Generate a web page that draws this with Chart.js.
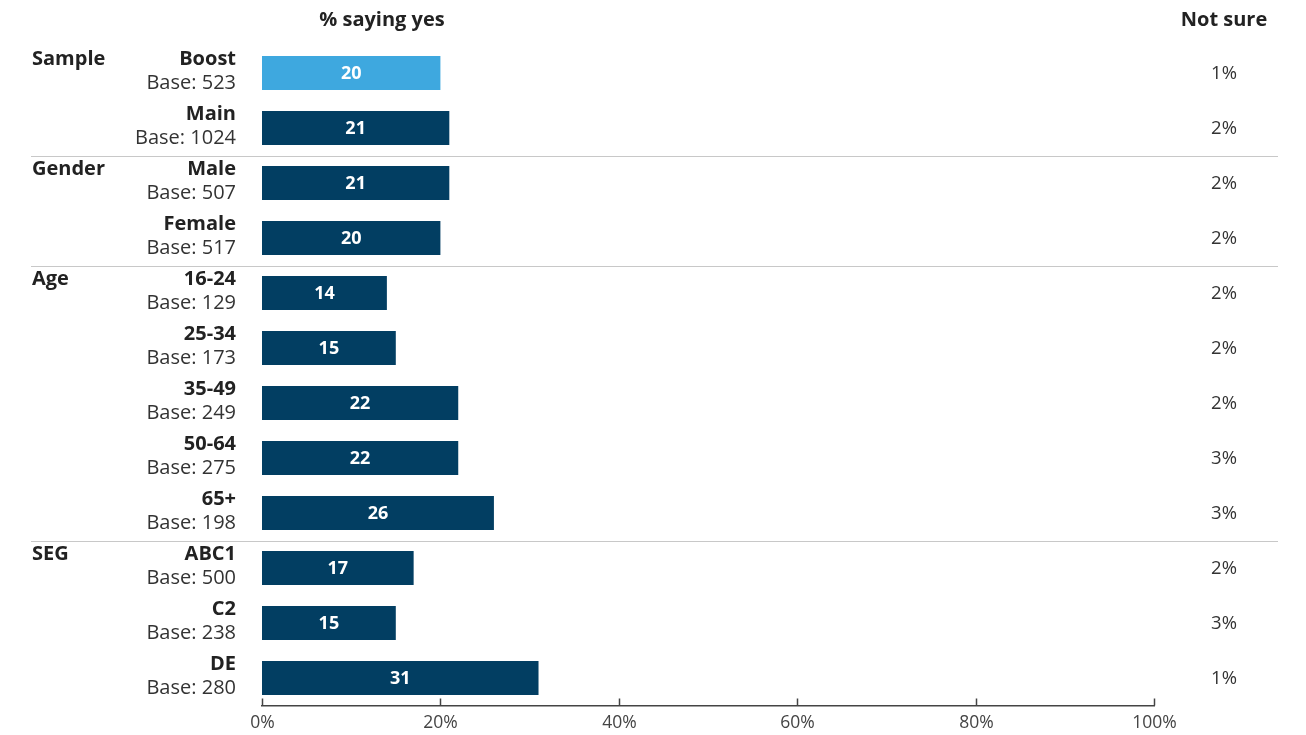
<!DOCTYPE html>
<html lang="en">
<head>
<meta charset="UTF-8">
<title>% saying yes</title>
<script src="https://cdn.jsdelivr.net/npm/chart.js"></script>
<style>
    body { margin: 0; background: #fff; }
    .wrap { position: relative; width: 1306px; height: 735px; }
</style>
</head>
<body>
<div class="wrap"><canvas id="chart"></canvas></div>
<script>
// Survey rows, top to bottom
const groups = ['Sample', '', 'Gender', '', 'Age', '', '', '', '', 'SEG', '', ''];
const categories = ['Boost', 'Main', 'Male', 'Female', '16-24', '25-34', '35-49', '50-64', '65+', 'ABC1', 'C2', 'DE'];
const bases = [523, 1024, 507, 517, 129, 173, 249, 275, 198, 500, 238, 280];
const yesValues = [20, 21, 21, 20, 14, 15, 22, 22, 26, 17, 15, 31];
const notSure = [1, 2, 2, 2, 2, 2, 2, 3, 3, 2, 3, 1];
const xTicks = [0, 20, 40, 60, 80, 100];
// rows after which a group divider is drawn
const dividersAfter = [1, 3, 8];

const NAVY = '#023e62';
const SKY = '#3ea8df';
const FONT = '"Open Sans", Lato, sans-serif';

const labelsPlugin = {
    id: 'rowLabels',
    afterDraw(chart) {
        const { ctx, chartArea, scales } = chart;
        const x = scales.x, y = scales.y;
        ctx.save();

        // upward tick marks on the axis line, labels below
        ctx.strokeStyle = '#444';
        ctx.lineWidth = 1.5;
        ctx.fillStyle = '#444';
        ctx.font = '17.5px ' + FONT;
        ctx.textAlign = 'center';
        ctx.textBaseline = 'middle';
        xTicks.forEach(t => {
            const px = Math.round(x.getPixelForValue(t)) + 0.5;
            ctx.beginPath();
            ctx.moveTo(px, chartArea.bottom);
            ctx.lineTo(px, chartArea.bottom - 7);
            ctx.stroke();
            ctx.fillText(t + '%', px, chartArea.bottom + 18);
        });

        // group dividers
        ctx.strokeStyle = '#c8c8c8';
        ctx.lineWidth = 1.2;
        dividersAfter.forEach(i => {
            const py = Math.round((y.getPixelForValue(i) + y.getPixelForValue(i + 1)) / 2) + 0.5;
            ctx.beginPath();
            ctx.moveTo(31, py);
            ctx.lineTo(1278, py);
            ctx.stroke();
        });

        // column headers
        ctx.fillStyle = '#222';
        ctx.font = 'bold 20px ' + FONT;
        ctx.fillText('% saying yes', 382, 20);
        ctx.fillText('Not sure', 1224, 20);

        categories.forEach((c, i) => {
            const py = y.getPixelForValue(i);
            // group name
            if (groups[i]) {
                ctx.textAlign = 'left';
                ctx.fillStyle = '#222';
                ctx.font = 'bold 20px ' + FONT;
                ctx.fillText(groups[i], 32, py - 14);
            }
            // category + base
            ctx.textAlign = 'right';
            ctx.fillStyle = '#222';
            ctx.font = 'bold 20px ' + FONT;
            ctx.fillText(c, 236, py - 14);
            ctx.fillStyle = '#333';
            ctx.font = '20px ' + FONT;
            ctx.fillText('Base: ' + bases[i], 236, py + 10);
            // not sure column
            ctx.textAlign = 'center';
            ctx.font = '18.5px ' + FONT;
            ctx.fillText(notSure[i] + '%', 1224, py + 1);
        });

        // values inside bars
        const meta = chart.getDatasetMeta(0);
        ctx.fillStyle = '#fff';
        ctx.font = 'bold 18px ' + FONT;
        ctx.textAlign = 'center';
        meta.data.forEach((bar, i) => {
            ctx.fillText(String(yesValues[i]), (bar.base + bar.x) / 2, bar.y + 1);
        });
        ctx.restore();
    }
};

new Chart(document.getElementById('chart'), {
    type: 'bar',
    data: {
        labels: categories,
        datasets: [{
            data: yesValues,
            backgroundColor: yesValues.map((_, i) => i === 0 ? SKY : NAVY),
            borderWidth: 0,
            categoryPercentage: 1,
            barPercentage: 0.62
        }]
    },
    options: {
        indexAxis: 'y',
        responsive: true,
        maintainAspectRatio: false,
        animation: false,
        layout: { padding: { left: 262, right: 152, top: 45.5, bottom: 29.5 } },
        plugins: { legend: { display: false }, tooltip: { enabled: false } },
        scales: {
            y: { display: false },
            x: {
                min: 0,
                max: 100,
                grid: { display: false, drawTicks: false, tickLength: 0 },
                border: { display: true, color: '#444', width: 1.5 },
                ticks: { display: false, stepSize: 20 }
            }
        }
    },
    plugins: [labelsPlugin]
});
</script>
</body>
</html>
